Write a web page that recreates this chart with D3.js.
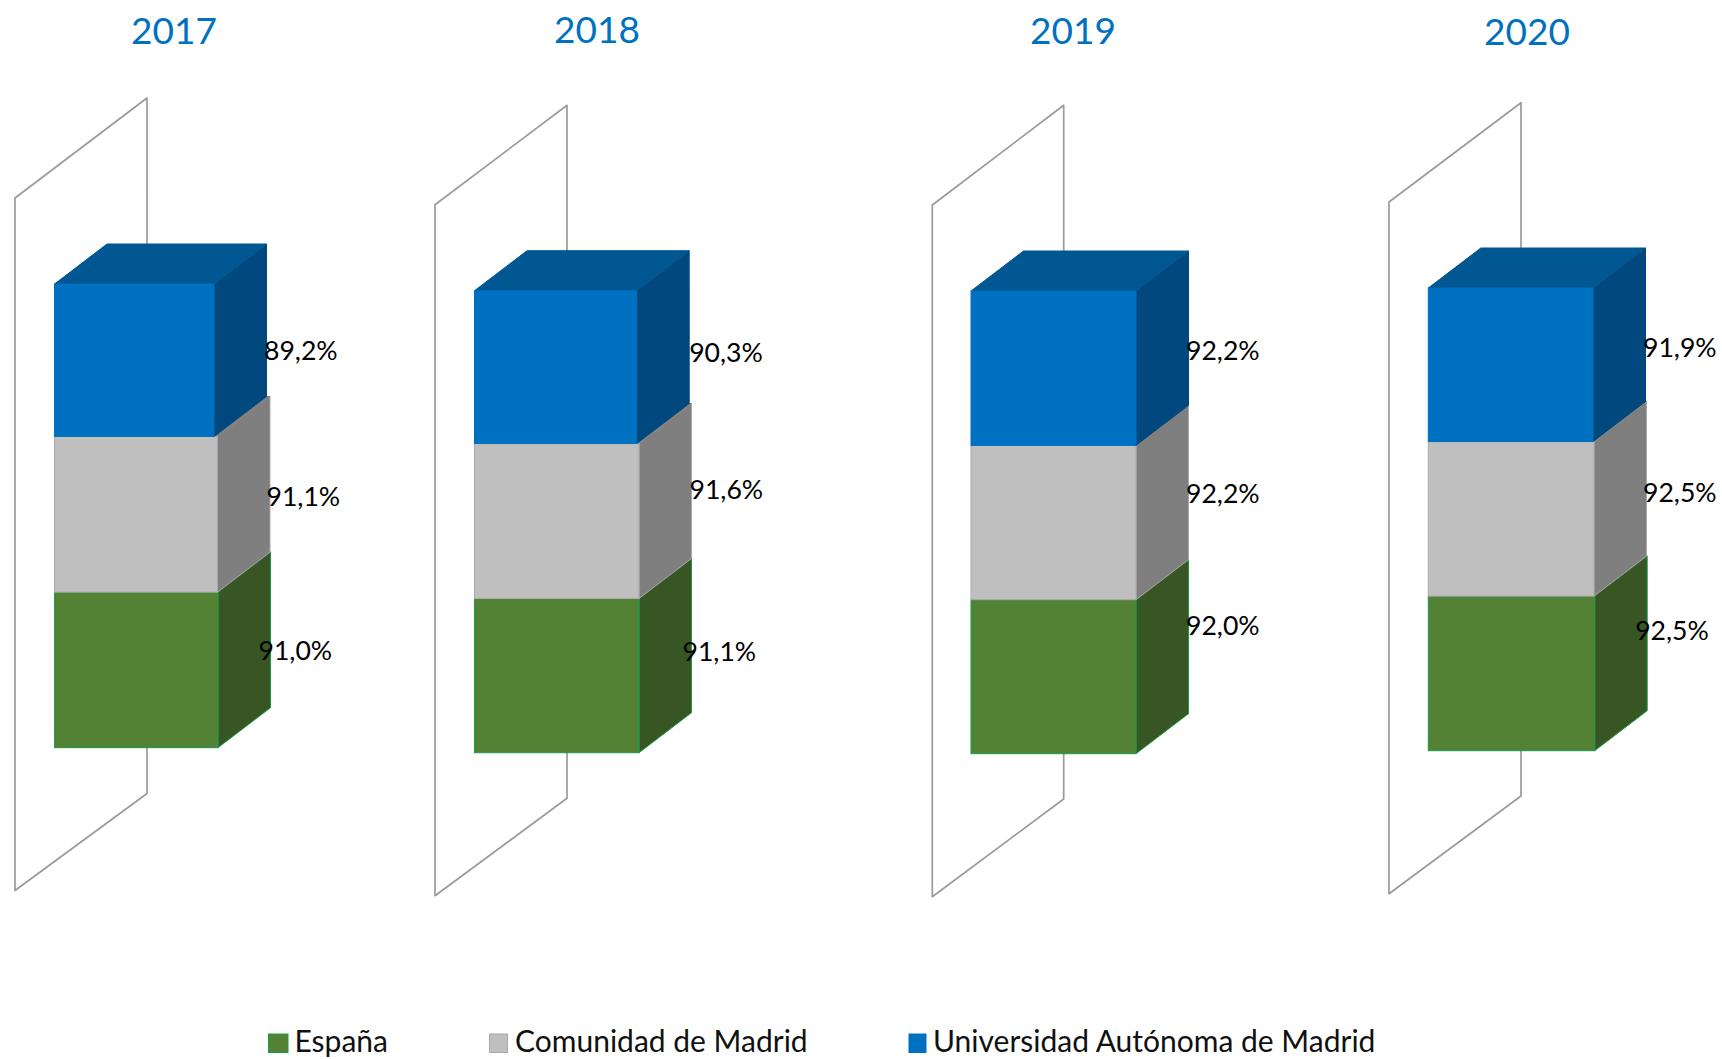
<!DOCTYPE html>
<html>
<head>
<meta charset="utf-8">
<script src="https://cdn.jsdelivr.net/npm/d3@7"></script>
<style>
	html, body { margin: 0; padding: 0; background: #fff; }
	svg { display: block; }
	text { font-family: Lato, "Open Sans", sans-serif; }
</style>
</head>
<body>
<svg id="chart" width="1722" height="1059"></svg>
<script>
// values
var years = ["2017", "2018", "2019", "2020"];
var seriesNames = ["España", "Comunidad de Madrid", "Universidad Autónoma de Madrid"];
var espana = [91.0, 91.1, 92.0, 92.5];
var comunidad = [91.1, 91.6, 92.2, 92.5];
var uam = [89.2, 90.3, 92.2, 91.9];

// layout of each small chart, the panels are not evenly spaced in the original
var panels = [
	{ wall: [15, 147], wallFront: [890.5, 198], wallBack: [793.5, 98], left: 54.5, rights: [218, 217.5, 214], bottom: 747.7, top: 284, titleX: 174, titleY: 43.5,
		labelDx: [-12, -3.5, -2.5], labelDy: [10, 12, 20] },
	{ wall: [435, 567], wallFront: [895.7, 204.7], wallBack: [798.3, 105.3], left: 474.5, rights: [639, 639, 636.7], bottom: 752.7, top: 290.7, titleX: 597, titleY: 43,
		labelDx: [-9, -2, 0], labelDy: [5, -2, 15] },
	{ wall: [932.3, 1063.7], wallFront: [896.7, 205], wallBack: [799, 105.3], left: 971, rights: [1136, 1136, 1136], bottom: 753.7, top: 291, titleX: 1073, titleY: 44,
		labelDx: [-2.5, -2.5, -2.5], labelDy: [-22, 0, 12] },
	{ wall: [1389, 1521], wallFront: [893.7, 202], wallBack: [796, 102.7], left: 1428.3, rights: [1594.7, 1594, 1593], bottom: 750.7, top: 288, titleX: 1527, titleY: 45,
		labelDx: [-12, -3.5, -2.5], labelDy: [-13.5, 3, 12.5] }
];
var depthX = 52.5, depthY = 40;

var front = ["#548235", "#BFBFBF", "#0070C0"];
var side = ["#375623", "#7F7F7F", "#00487D"];
var lid = ["#375623", "#7F7F7F", "#005792"];
var frontEdge = ["#1B9A4B", "#A9A9A9", "#0070C0"];
var sideEdge = ["#1B9A4B", "#A9A9A9", "#00487D"];

var legendX = [268.5, 489.5, 909];
var legendW = [19.5, 18, 17];
var legendTextX = [294.5, 515, 933];

var svg = d3.select("#chart");
var pct = d3.formatLocale({ decimal: ",", thousands: ".", grouping: [3], currency: ["", ""] }).format(".1f");
var line = d3.line();

var rows = years.map(function(y, i) {
	return { year: y, espana: espana[i], comunidad: comunidad[i], uam: uam[i] };
});
var stack = d3.stack()
	.keys(["espana", "comunidad", "uam"])
	.offset(d3.stackOffsetExpand);
var stacked = stack(rows);

years.forEach(function(year, p) {
	var panel = panels[p];
	var y = d3.scaleLinear().domain([0, 1]).range([panel.bottom, panel.top]);
	var g = svg.append("g").attr("class", "panel");

	// back wall
	g.append("path")
		.attr("d", line([
			[panel.wall[0], panel.wallFront[0]],
			[panel.wall[0], panel.wallFront[1]],
			[panel.wall[1], panel.wallBack[1]],
			[panel.wall[1], panel.wallBack[0]]
		]) + "Z")
		.attr("fill", "none")
		.attr("stroke", "#9A9A9A")
		.attr("stroke-width", 1.7)
		.attr("stroke-linejoin", "round");

	stacked.forEach(function(layer, s) {
		var d = layer[p];
		var x = d3.scaleBand().domain([year]).range([panel.left, panel.rights[s]]);
		var x0 = x(year), x1 = x0 + x.bandwidth();
		var y0 = y(d[0]), y1 = y(d[1]);

		// side
		g.append("path")
			.attr("d", line([[x1, y0], [x1 + depthX, y0 - depthY], [x1 + depthX, y1 - depthY], [x1, y1]]) + "Z")
			.attr("fill", side[s])
			.attr("stroke", sideEdge[s])
			.attr("stroke-width", 1);
		// lid, the next block up hides most of it
		g.append("path")
			.attr("d", line([[x0, y1], [x0 + depthX, y1 - depthY], [x1 + depthX, y1 - depthY], [x1, y1]]) + "Z")
			.attr("fill", lid[s])
			.attr("stroke", lid[s])
			.attr("stroke-width", 1);
		// front
		g.append("rect")
			.attr("x", x0)
			.attr("y", y1)
			.attr("width", x1 - x0)
			.attr("height", y0 - y1)
			.attr("fill", front[s])
			.attr("stroke", frontEdge[s])
			.attr("stroke-width", 1);
	});

	// labels go on top of every bar
	stacked.forEach(function(layer, s) {
		var d = layer[p];
		g.append("text")
			.attr("x", panel.rights[s] + depthX + panel.labelDx[s])
			.attr("y", y((d[0] + d[1]) / 2) - depthY / 2 + panel.labelDy[s])
			.attr("font-size", 26.6)
			.attr("fill", "#000")
			.text(pct(d.data[layer.key]) + "%");
	});

	g.append("text")
		.attr("x", panel.titleX)
		.attr("y", panel.titleY)
		.attr("text-anchor", "middle")
		.attr("font-size", 37)
		.attr("fill", "#0070C0")
		.text(year);
});

// legend
var legend = svg.append("g").selectAll("g")
	.data(seriesNames)
	.enter().append("g");

legend.append("rect")
	.attr("x", function(d, i) { return legendX[i]; })
	.attr("y", 1034)
	.attr("width", function(d, i) { return legendW[i]; })
	.attr("height", 18.5)
	.attr("fill", function(d, i) { return front[i]; })
	.attr("stroke", function(d, i) { return frontEdge[i]; })
	.attr("stroke-width", 1);

legend.append("text")
	.attr("x", function(d, i) { return legendTextX[i]; })
	.attr("y", 1052)
	.attr("font-size", 30)
	.attr("fill", "#111")
	.text(function(d) { return d; });
</script>
</body>
</html>
